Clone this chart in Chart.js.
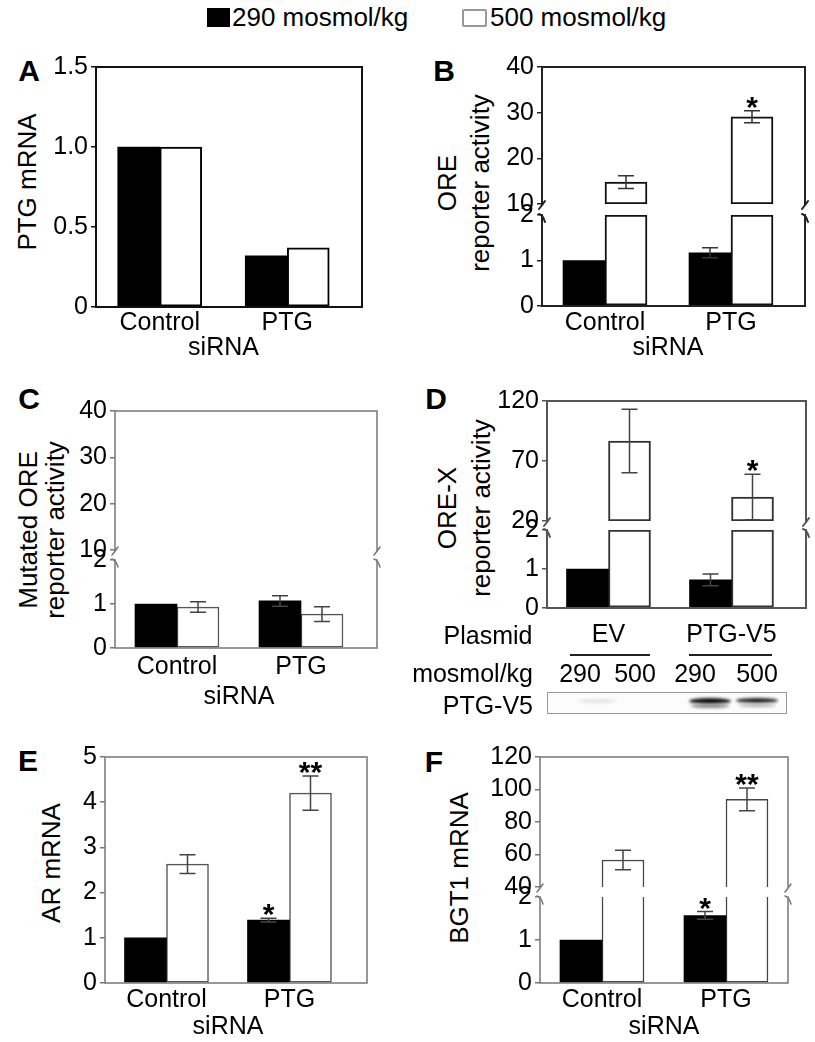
<!DOCTYPE html>
<html>
<head>
<meta charset="utf-8">
<script src="https://cdn.jsdelivr.net/npm/chart.js@4.4.0/dist/chart.umd.min.js"></script>
<style>
body { margin: 0; background: #fff; }
#fig { position: relative; width: 815px; height: 1042px; overflow: hidden; font-family: 'Liberation Sans', Arial, sans-serif; color: #000; }
#fig canvas { position: absolute; }
.t { position: absolute; white-space: nowrap; line-height: 1; }
.box { position: absolute; }
</style>
</head>
<body>
<div id="fig"></div>
<script>
// ---- data ----
const legendLabels = ['290 mosmol/kg', '500 mosmol/kg'];
const categories = ['Control', 'PTG'];
const plasmids = ['EV', 'PTG-V5'];
const osmRow = ['290', '500', '290', '500'];

// A: PTG mRNA
const a290 = [1.0, 0.32];
const a500 = [1.0, 0.37];
const ticksA = [0, 0.5, 1, 1.5];
const tickLabelsA = ['0', '0.5', '1.0', '1.5'];

// B: ORE reporter activity
const b290 = [1.0, 1.17];
const b290err = [null, 0.11];
const b500 = [14.8, 29.1];
const b500err = [1.4, 1.3];
const b500stars = ['', '*'];
const ticksBLow = [0, 1, 2];
const ticksBHigh = [10, 20, 30, 40];

// C: mutated ORE reporter activity
const c290 = [1.0, 1.07];
const c290err = [null, 0.12];
const c500 = [0.93, 0.77];
const c500err = [0.12, 0.17];
const ticksCLow = [0, 1, 2];
const ticksCHigh = [10, 20, 30, 40];

// D: ORE-X reporter activity
const d290 = [1.0, 0.72];
const d290err = [null, 0.15];
const d500 = [86.7, 40];
const d500err = [26.5, 19];
const d500stars = ['', '*'];
const ticksDLow = [0, 1, 2];
const ticksDHigh = [20, 70, 120];

// E: AR mRNA
const e290 = [1.0, 1.39];
const e290err = [null, 0.04];
const e290stars = ['', '*'];
const e500 = [2.63, 4.2];
const e500err = [0.21, 0.38];
const e500stars = ['', '**'];
const ticksE = [0, 1, 2, 3, 4, 5];

// F: BGT1 mRNA
const f290 = [1.0, 1.57];
const f290err = [null, 0.09];
const f290stars = ['', '*'];
const f500 = [56.6, 94];
const f500err = [6, 7];
const f500stars = ['', '**'];
const ticksFLow = [0, 1, 2];
const ticksFHigh = [40, 60, 80, 100, 120];

// ---- layout ----
const FONT = "'Liberation Sans', Arial, sans-serif";
Chart.defaults.font.family = FONT;
Chart.defaults.color = '#000';
const fig = document.getElementById('fig');
const YW = 75, PT = 18, PB = 18, PR = 4;

function put(text, x, y, size, opt) {
  opt = opt || {};
  const d = document.createElement('div');
  d.className = 't';
  d.textContent = text;
  d.style.left = x + 'px';
  d.style.top = y + 'px';
  d.style.fontSize = size + 'px';
  if (opt.bold) d.style.fontWeight = 'bold';
  let tr = opt.right ? 'translate(-100%,-50%)' : opt.left ? 'translate(0,-50%)' : 'translate(-50%,-50%)';
  if (opt.rot) tr += ' rotate(-90deg)';
  d.style.transform = tr;
  fig.appendChild(d);
}

function box(x, y, w, h, css) {
  const d = document.createElement('div');
  d.className = 'box';
  d.style.left = x + 'px';
  d.style.top = y + 'px';
  d.style.width = w + 'px';
  d.style.height = h + 'px';
  Object.assign(d.style, css || {});
  fig.appendChild(d);
  return d;
}

// error bars, stars and the frame with break marks
const deco = {
  id: 'deco',
  afterDatasetsDraw(chart, args, o) {
    const ctx = chart.ctx, a = chart.chartArea, y = chart.scales.y;
    ctx.save();
    chart.data.datasets.forEach((ds, i) => {
      const meta = chart.getDatasetMeta(i);
      ds.vals.forEach((v, j) => {
        if (v > y.max || v < y.min) return;
        const x = meta.data[j].x;
        const e = ds.errs ? ds.errs[j] : null;
        let top = y.getPixelForValue(v);
        if (e) {
          const y1 = y.getPixelForValue(v + e);
          const y0 = y.getPixelForValue(Math.max(v - e, y.min));
          ctx.strokeStyle = o.errColor;
          ctx.lineWidth = 1.5;
          ctx.beginPath();
          ctx.moveTo(x, y0); ctx.lineTo(x, y1);
          ctx.moveTo(x - 8, y1); ctx.lineTo(x + 8, y1);
          ctx.moveTo(x - 8, y0); ctx.lineTo(x + 8, y0);
          ctx.stroke();
          top = y1;
        }
        const s = ds.stars ? ds.stars[j] : '';
        if (s) {
          ctx.fillStyle = '#000';
          ctx.font = 'bold 30px ' + FONT;
          ctx.textAlign = 'center';
          ctx.textBaseline = 'alphabetic';
          ctx.fillText(s, x, top + 6);
        }
      });
    });
    const L = a.left, R = a.right + (o.extra || 0), T = a.top, B = a.bottom;
    ctx.strokeStyle = o.color;
    ctx.lineWidth = o.width;
    ctx.lineCap = 'square';
    ctx.beginPath();
    ctx.moveTo(L, T); ctx.lineTo(L, B);
    ctx.moveTo(R, T); ctx.lineTo(R, B);
    if (o.brk !== 'top') { ctx.moveTo(L, T); ctx.lineTo(R, T); }
    if (o.brk !== 'bottom') { ctx.moveTo(L, B); ctx.lineTo(R, B); }
    ctx.stroke();
    if (o.brk) {
      const yb = o.brk === 'bottom' ? B : T;
      const dy = o.brk === 'bottom' ? 1 : -1;
      ctx.lineCap = 'round';
      [L, R].forEach(x => {
        ctx.beginPath();
        ctx.moveTo(x - 3, yb + 3 * dy + 2);
        ctx.quadraticCurveTo(x + 1, yb, x + 3, yb - 5 * dy + 2);
        ctx.stroke();
      });
    }
    ctx.restore();
  }
};

function bars(o) {
  const lo = o.ticks[0], hi = o.ticks[o.ticks.length - 1];
  const showX = !!o.xLabels;
  const xh = showX ? o.xh : 0;
  const pb = showX ? 0 : PB;
  const extra = o.extra || 0;
  const cv = document.createElement('canvas');
  cv.width = o.r - o.l + YW + PR;
  cv.height = o.b - o.t + PT + xh + pb;
  cv.style.left = (o.l - YW) + 'px';
  cv.style.top = (o.t - PT) + 'px';
  fig.appendChild(cv);

  const series = [
    { vals: o.s290, errs: o.e290, stars: o.k290, fill: '#000', line: '#000', bw: 0 },
    { vals: o.s500, errs: o.e500, stars: o.k500, fill: '#fff', line: o.barLine, bw: o.barWidth }
  ];

  new Chart(cv, {
    type: 'bar',
    data: {
      labels: o.xLabels || categories,
      datasets: series.map((s, i) => ({
        label: legendLabels[i],
        data: s.vals.map(v => v > lo ? [lo, Math.min(v, hi)] : null),
        vals: s.vals,
        errs: s.errs,
        stars: s.stars,
        backgroundColor: s.fill,
        borderColor: s.line,
        borderWidth: s.bw,
        borderSkipped: o.open
          ? (c => lo > 0 ? 'bottom' : (s.vals[c.dataIndex] > hi ? 'top' : false))
          : false,
        barThickness: 42
      }))
    },
    options: {
      responsive: false,
      animation: false,
      layout: { padding: { left: 0, top: PT, right: PR + extra, bottom: pb } },
      plugins: {
        legend: { display: false },
        tooltip: { enabled: false },
        deco: { color: o.frameColor, width: o.frameWidth, extra: extra, brk: o.brk, errColor: o.errColor || '#333' }
      },
      scales: {
        x: {
          display: showX,
          offset: true,
          grid: { display: false, drawTicks: false },
          border: { display: false },
          ticks: { font: { size: 25 }, padding: o.tickPad || 0, maxRotation: 0, autoSkip: false },
          title: { display: !!o.xTitle, text: o.xTitle, font: { size: 25 }, padding: { top: 0, bottom: o.titlePad || 0 } },
          afterFit: s => { s.height = xh; }
        },
        y: {
          min: lo,
          max: hi,
          afterBuildTicks: s => { s.ticks = o.ticks.map(v => ({ value: v })); },
          afterFit: s => { s.width = YW; },
          grid: { drawOnChartArea: false, drawTicks: true, tickLength: 5, color: o.frameColor, lineWidth: 1.5 },
          border: { display: false },
          ticks: { font: { size: 25 }, padding: 3, autoSkip: false, callback: (v, i) => o.tickLabels ? o.tickLabels[i] : v }
        }
      }
    },
    plugins: [deco]
  });
}

// ---- legend ----
box(207, 8, 23, 19, { background: '#000' });
put(legendLabels[0], 232, 17, 26, { left: true });
box(462, 9, 21, 14, { border: '2px solid #999', borderRadius: '2px', background: '#fff' });
put(legendLabels[1], 490, 17, 26, { left: true });

// ---- panel A ----
put('A', 29, 71, 30, { bold: true });
put('PTG mRNA', 27, 182, 26, { rot: true });
bars({ l: 96, r: 362, extra: 11, t: 67, b: 307, ticks: ticksA, tickLabels: tickLabelsA,
  s290: a290, s500: a500, xLabels: categories, xTitle: 'siRNA', xh: 70, tickPad: 1, titlePad: 14,
  frameColor: '#111', frameWidth: 2, barLine: '#000', barWidth: 2 });

// ---- panel B ----
put('B', 444, 71, 30, { bold: true });
put('ORE', 447, 183, 26, { rot: true });
put('reporter activity', 480, 183, 26, { rot: true });
bars({ l: 542, r: 805, extra: 11, t: 67, b: 204, ticks: ticksBHigh, brk: 'bottom',
  s290: b290, e290: b290err, s500: b500, e500: b500err, k500: b500stars,
  frameColor: '#222', frameWidth: 2, barLine: '#111', barWidth: 2 });
bars({ l: 542, r: 805, extra: 11, t: 215, b: 306, ticks: ticksBLow, brk: 'top',
  s290: b290, e290: b290err, s500: b500, e500: b500err, k500: b500stars,
  xLabels: categories, xTitle: 'siRNA', xh: 70, tickPad: 2, titlePad: 13,
  frameColor: '#222', frameWidth: 2, barLine: '#111', barWidth: 2 });

// ---- panel C ----
put('C', 29, 399, 30, { bold: true });
put('Mutated ORE', 28, 530, 26, { rot: true });
put('reporter activity', 55, 530, 26, { rot: true });
bars({ l: 115, r: 377, extra: 14, t: 411, b: 550, ticks: ticksCHigh, brk: 'bottom',
  s290: c290, e290: c290err, s500: c500, e500: c500err,
  frameColor: '#777', frameWidth: 1.5, barLine: '#555', barWidth: 1.5, errColor: '#444' });
bars({ l: 115, r: 377, extra: 14, t: 560, b: 648, ticks: ticksCLow, brk: 'top',
  s290: c290, e290: c290err, s500: c500, e500: c500err,
  xLabels: categories, xTitle: 'siRNA', xh: 70, tickPad: 4, titlePad: 6,
  frameColor: '#777', frameWidth: 1.5, barLine: '#555', barWidth: 1.5, errColor: '#444' });

// ---- panel D ----
put('D', 436, 399, 30, { bold: true });
put('ORE-X', 447, 508, 26, { rot: true });
put('reporter activity', 481, 508, 26, { rot: true });
bars({ l: 547, r: 806, extra: 13, t: 401, b: 521, ticks: ticksDHigh, brk: 'bottom',
  s290: d290, e290: d290err, s500: d500, e500: d500err, k500: d500stars,
  frameColor: '#555', frameWidth: 2, barLine: '#333', barWidth: 2, errColor: '#444' });
bars({ l: 547, r: 806, extra: 13, t: 530, b: 608, ticks: ticksDLow, brk: 'top',
  s290: d290, e290: d290err, s500: d500, e500: d500err, k500: d500stars,
  xLabels: plasmids, xh: 40, tickPad: 12,
  frameColor: '#555', frameWidth: 2, barLine: '#333', barWidth: 2, errColor: '#444' });
put('Plasmid', 488, 635, 25);
box(570, 654, 80, 1.5, { background: '#222' });
box(689, 654, 83, 1.5, { background: '#222' });
put('mosmol/kg', 533, 673, 25, { right: true });
[580, 635, 695, 757].forEach((x, i) => put(osmRow[i], x, 673, 25));
put('PTG-V5', 533, 705, 25, { right: true });
const blot = box(547, 692, 238, 20, { border: '1.5px solid #999', background: '#fcfcfc', overflow: 'hidden' });
[[30, 6, 38, 4, '#e4e4e4'], [141, 5, 42, 6, '#111'], [143, 11, 38, 4, '#888'], [188, 5, 42, 5, '#222'], [190, 11, 38, 3, '#aaa']]
  .forEach(([x, y, w, h, c]) => {
    const d = document.createElement('div');
    Object.assign(d.style, { position: 'absolute', left: x + 'px', top: y + 'px', width: w + 'px', height: h + 'px',
      background: c, borderRadius: '50%', filter: 'blur(1.5px)' });
    blot.appendChild(d);
  });

// ---- panel E ----
put('E', 28, 761, 30, { bold: true });
put('AR mRNA', 51, 863, 26, { rot: true });
bars({ l: 105, r: 367, extra: 16, t: 757, b: 983, ticks: ticksE,
  s290: e290, e290: e290err, k290: e290stars, s500: e500, e500: e500err, k500: e500stars,
  xLabels: categories, xTitle: 'siRNA', xh: 70, tickPad: 2, titlePad: 11,
  frameColor: '#777', frameWidth: 1.5, barLine: '#555', barWidth: 1.5, errColor: '#444' });

// ---- panel F ----
put('F', 434, 762, 30, { bold: true });
put('BGT1 mRNA', 459, 868, 26, { rot: true });
bars({ l: 540, r: 788, t: 757, b: 887, ticks: ticksFHigh, brk: 'bottom', open: true,
  s290: f290, e290: f290err, k290: f290stars, s500: f500, e500: f500err, k500: f500stars,
  frameColor: '#777', frameWidth: 1.5, barLine: '#444', barWidth: 1.5, errColor: '#444' });
bars({ l: 540, r: 788, t: 897, b: 983, ticks: ticksFLow, brk: 'top', open: true,
  s290: f290, e290: f290err, k290: f290stars, s500: f500, e500: f500err, k500: f500stars,
  xLabels: categories, xTitle: 'siRNA', xh: 70, tickPad: 2, titlePad: 11,
  frameColor: '#777', frameWidth: 1.5, barLine: '#444', barWidth: 1.5, errColor: '#444' });
</script>
</body>
</html>
